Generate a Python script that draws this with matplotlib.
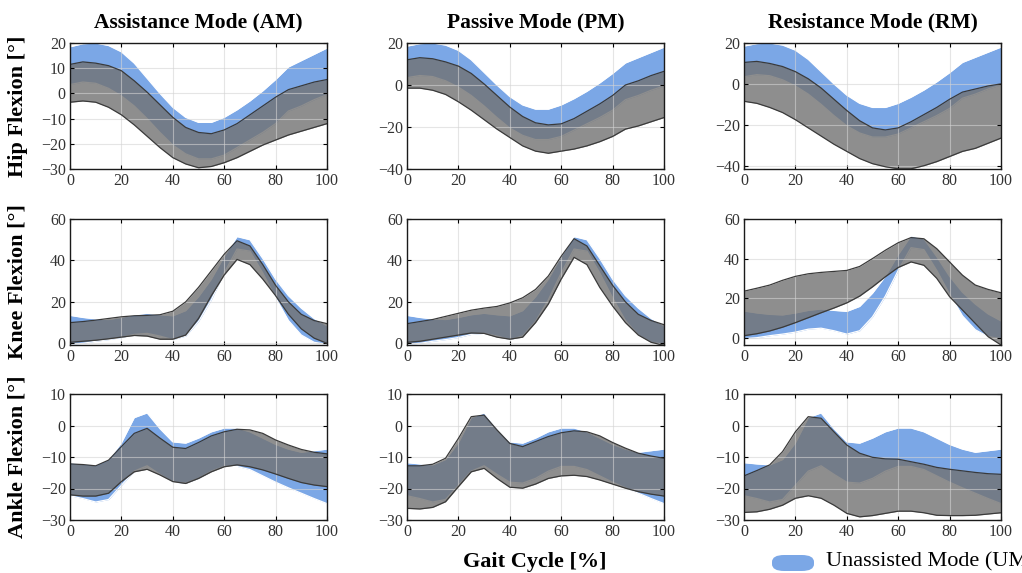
# -*- coding: utf-8 -*-

"""
Joint angle bands over the gait cycle, three exoskeleton modes vs unassisted
"""

import numpy as np
import matplotlib
matplotlib.use("Agg")
import matplotlib.pyplot as pl
from matplotlib.patches import FancyBboxPatch

gait = np.arange(0, 101, 5)  # gait cycle [%]

modeTitles = ["Assistance Mode (AM)", "Passive Mode (PM)", "Resistance Mode (RM)"]
jointLabels = ["Hip Flexion [°]", "Knee Flexion [°]", "Ankle Flexion [°]"]

# unassisted mode (UM), mean +/- sd band, same in every column
hipUM_hi = [18.5, 19.7, 20, 19, 16.5, 12, 6, 0, -5.5, -9.5, -11.5, -11.5, -9.5, -6.5, -3, 1, 5.5, 10.5, 13, 15.5, 18]
hipUM_lo = [3.5, 4.5, 4, 2, -1, -5, -10, -15.5, -20.5, -24, -26, -26, -24.5, -21.5, -18.5, -15.5, -12, -7, -5, -2.5, -0.5]
kneeUM_hi = [13.5, 12.5, 11.8, 11.5, 12.5, 13.8, 14.5, 13.8, 13.3, 15.8, 22.5, 31, 42, 51.5, 50, 41, 31, 23, 17, 12, 8.5]
kneeUM_lo = [-0.5, 0, 1, 1.8, 2.8, 4.3, 4.8, 3.5, 1.8, 3.5, 10.5, 21, 34, 45.5, 44.5, 34, 22, 11, 4, 0.5, -0.5]
ankleUM_hi = [-11.8, -12.2, -12.5, -10.8, -5.5, 2.5, 4, -1, -5.2, -5.6, -4, -2, -0.8, -0.8, -2, -4, -6, -7.5, -8.5, -8, -7.5]
ankleUM_lo = [-22.3, -23.2, -24.3, -23.5, -19, -14.5, -12.8, -15.5, -18, -18.3, -16.8, -14.5, -13, -13, -14, -16, -18, -19.8, -21.5, -23.2, -24.8]

# assistance mode (AM)
hipAM_hi = [11.5, 12.5, 12, 11, 9, 5, 0.5, -4.5, -9.5, -13.5, -15.5, -16, -14.5, -12, -8.5, -5, -1.5, 1.5, 3, 4.5, 5.5]
hipAM_lo = [-3.5, -3, -3.5, -5.5, -8.5, -12.5, -17, -21.5, -25.5, -28, -29.5, -29, -27.5, -25.5, -23, -20.5, -18.5, -16.5, -15, -13.5, -12]
kneeAM_hi = [10, 10.5, 11.2, 12, 12.8, 13.3, 13.5, 13.8, 15.5, 20, 27, 35, 43, 49.5, 47, 38, 28, 20, 14, 11, 9.5]
kneeAM_lo = [0.5, 1, 1.5, 2.2, 3, 3.8, 3.5, 2, 2, 4, 12, 23, 33, 40.5, 38, 31, 23, 14, 7, 2.5, 0]
ankleAM_hi = [-12.2, -12.4, -12.8, -11, -6.7, -2.5, -0.9, -4, -6.9, -7.3, -5.4, -3.3, -2, -1.2, -1.4, -2.5, -4.6, -6.2, -7.6, -8.5, -9]
ankleAM_lo = [-22, -22.4, -22.4, -21.5, -17.8, -14.7, -13.9, -15.7, -17.8, -18.4, -16.8, -14.7, -13.1, -12.5, -13.1, -14.1, -15.4, -16.8, -18.1, -18.9, -19.4]

# passive mode (PM)
hipPM_hi = [12, 13, 12.5, 11, 9, 5.5, 0.5, -5, -10.5, -15, -18, -19, -18.5, -16, -12.5, -9, -5, 0, 2, 4.5, 6.5]
hipPM_lo = [-1.5, -1.5, -2.5, -4.5, -8, -12, -16.5, -21, -25, -29, -31.5, -32.5, -31.5, -30.5, -29, -27, -24.5, -21, -19.5, -17.5, -15.5]
kneePM_hi = [9.5, 10.5, 11.5, 13, 14.5, 16, 17, 17.8, 19.5, 22, 26, 32.5, 42, 50.5, 47, 37.5, 28, 20, 14, 11, 9]
kneePM_lo = [0.5, 1, 2, 3, 4, 5, 4.8, 3, 2, 3, 10, 19, 31, 41.5, 38, 27, 18, 10, 4, 0.5, -1]
anklePM_hi = [-12.8, -12.8, -12.3, -10.4, -4.1, 2.8, 3.3, -1.4, -5.7, -6.7, -5.1, -3.5, -2.3, -1.7, -2, -3.3, -5.4, -7.2, -8.8, -9.7, -10.4]
anklePM_lo = [-26.3, -26.5, -26, -24.2, -19.4, -14.7, -13.6, -16.8, -19.6, -19.9, -18.6, -16.8, -16, -15.8, -16.2, -17.3, -18.6, -19.9, -21, -21.8, -22.4]

# resistance mode (RM)
hipRM_hi = [10.5, 11, 10, 8.5, 6, 2.5, -2, -7.5, -13, -18, -21.5, -22.5, -21.5, -18.5, -15, -11.5, -7.5, -4, -2.5, -1, 0]
hipRM_lo = [-8.5, -9.5, -11.5, -14, -17.5, -21.5, -25.5, -29.5, -33, -36.5, -39, -40.5, -41.5, -41.5, -40, -38, -35.5, -33, -31.5, -29, -26.5]
kneeRM_hi = [23.5, 25, 26.6, 29, 31, 32.3, 33, 33.5, 34, 36, 40, 44.2, 48, 50.6, 50, 45, 38.3, 31.6, 26.6, 24.4, 22.7]
kneeRM_lo = [1, 2, 3.4, 5.3, 7.6, 10.1, 12.6, 15, 17.6, 21, 25.7, 30.8, 35.5, 38.3, 36.6, 30, 20.7, 14, 7.2, 0.5, -3.7]
ankleRM_hi = [-16, -14.3, -12.5, -8.3, -2, 2.8, 2.3, -2, -6.2, -8.8, -10.1, -10.6, -10.7, -11.5, -12.3, -13.3, -13.9, -14.4, -14.9, -15.3, -15.5]
ankleRM_lo = [-27.6, -27.4, -26.6, -25.3, -23.1, -22.3, -23.1, -25.3, -27.9, -29, -28.6, -27.9, -27.2, -27.2, -27.7, -28.5, -28.6, -28.6, -28.5, -28.1, -27.7]

umBands = [(hipUM_lo, hipUM_hi), (kneeUM_lo, kneeUM_hi), (ankleUM_lo, ankleUM_hi)]
modeBands = [
	[(hipAM_lo, hipAM_hi), (hipPM_lo, hipPM_hi), (hipRM_lo, hipRM_hi)],
	[(kneeAM_lo, kneeAM_hi), (kneePM_lo, kneePM_hi), (kneeRM_lo, kneeRM_hi)],
	[(ankleAM_lo, ankleAM_hi), (anklePM_lo, anklePM_hi), (ankleRM_lo, ankleRM_hi)],
]

yLims = [
	[(-30, 20), (-40, 20), (-41.6, 20)],
	[(-0.8, 60), (-0.8, 60), (-3.7, 60)],
	[(-30, 10), (-30, 10), (-30, 10)],
]
yTicks = [
	[[-30, -20, -10, 0, 10, 20], [-40, -20, 0, 20], [-40, -20, 0, 20]],
	[[0, 20, 40, 60]] * 3,
	[[-30, -20, -10, 0, 10]] * 3,
]

umColor = "#7BA7E6"
modeColor = "#727272"
edgeColor = "#3a3a3a"

pl.rcParams['font.family'] = ['Liberation Serif', 'DejaVu Serif']

W, H = 1022.0, 573.0
colLeft = [70, 407, 744]
rowTop = [43, 219, 394]
axW, axH = 257, 126

fig = pl.figure(figsize=(W / 100, H / 100), dpi=100)

for r in range(3):
	for c in range(3):
		ax = fig.add_axes([colLeft[c] / W, 1 - (rowTop[r] + axH) / H, axW / W, axH / H])
		lo, hi = np.array(umBands[r][0]), np.array(umBands[r][1])
		ax.fill_between(gait, lo, hi, color=umColor, lw=0, zorder=1)
		ax.plot(gait, lo, color="white", lw=0.9, zorder=1.5)
		ax.plot(gait, hi, color="white", lw=0.9, zorder=1.5)

		mlo, mhi = np.array(modeBands[r][c][0]), np.array(modeBands[r][c][1])
		ax.fill_between(gait, mlo, mhi, color=modeColor, alpha=0.8, lw=0, zorder=2)
		ax.plot(gait, mlo, color=edgeColor, lw=0.9, zorder=3)
		ax.plot(gait, mhi, color=edgeColor, lw=0.9, zorder=3)

		ax.set_xlim(0, 100)
		ax.set_ylim(*yLims[r][c])
		ax.set_xticks([0, 20, 40, 60, 80, 100])
		ax.set_yticks(yTicks[r][c])
		ax.grid(True, color="#d4d4d4", alpha=0.6, lw=0.8, zorder=2.5)
		ax.set_axisbelow(False)
		ax.tick_params(direction="in", top=True, right=True, length=3, width=0.8,
			labelsize=11.5, labelcolor="#333333", pad=3)
		for s in ax.spines.values():
			s.set_linewidth(1.0)
			s.set_color("#1a1a1a")
			s.set_zorder(4)

		if r == 0:
			ax.set_title(modeTitles[c], fontsize=15.5, fontweight="bold", pad=11)
		if c == 0:
			ax.set_ylabel(jointLabels[r], fontsize=16, fontweight="bold")
			ax.yaxis.set_label_coords(-42.0 / axW, 0.5)

fig.text(535 / W, 1 - 562 / H, "Gait Cycle [%]", ha="center", va="center",
	fontsize=16, fontweight="bold")

# legend entry, runs off the right edge like the original
patch = FancyBboxPatch((772 / W, 1 - 571 / H), 42 / W, 16 / H,
	boxstyle="round,pad=0,rounding_size=0.012", transform=fig.transFigure,
	facecolor=umColor, edgecolor="none")
fig.patches.append(patch)
fig.text(826 / W, 1 - 562 / H, "Unassisted Mode (UM)", ha="left", va="center", fontsize=16)

pl.savefig("out.png", format="png", dpi=100)
